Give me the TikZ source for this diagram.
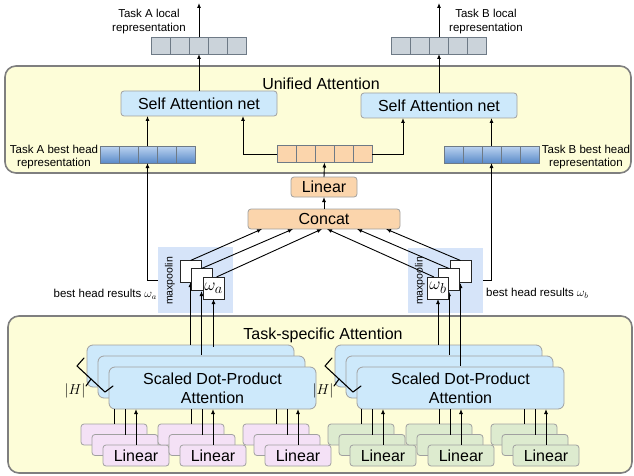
\documentclass[tikz,border=0pt]{standalone}
\usepackage{fontspec}
\setmainfont{Liberation Sans}
\usetikzlibrary{arrows.meta,calc}

\definecolor{panelyellow}{HTML}{FDFDD8}
\definecolor{panelrule}{HTML}{7F7F7F}
\definecolor{boxrule}{HTML}{A0A0A0}
\definecolor{vecrule}{HTML}{6E7A86}
\definecolor{attblue}{HTML}{CDE9FB}
\definecolor{peach}{HTML}{FBD5AC}
\definecolor{lilac}{HTML}{F4E1F6}
\definecolor{sage}{HTML}{DDEBCF}
\definecolor{slate}{HTML}{CBD3DA}
\definecolor{poolblue}{HTML}{D6E4F9}
\definecolor{vectop}{HTML}{BCD3F0}
\definecolor{vecbot}{HTML}{5A8BC9}

\begin{document}
\begin{tikzpicture}[x=1pt,y=-1pt,
  panel/.style={draw=panelrule, line width=1.6pt, fill=panelyellow, rounded corners=11pt},
  blk/.style={draw=boxrule, line width=0.8pt, rounded corners=3pt, inner sep=0pt,
    outer sep=0pt, font=\fontsize{16}{19}\selectfont, align=center},
  vecbox/.style={draw=vecrule, line width=0.8pt, minimum width=95pt, minimum height=17pt,
    inner sep=0pt, outer sep=0pt,
    path picture={\foreach \k in {1,...,4}{
      \draw[vecrule, line width=0.8pt] ([xshift=\k*19pt]path picture bounding box.south west)
        -- ([xshift=\k*19pt]path picture bounding box.north west);}}},
  poolbox/.style={draw=black!85, line width=0.9pt, fill=white, minimum width=21pt,
    minimum height=22pt, inner sep=0pt, outer sep=0pt, font=\fontsize{19}{19}\selectfont},
  small/.style={font=\fontsize{11.5}{13.5}\selectfont, align=center, inner sep=0pt},
  big/.style={font=\fontsize{16}{19}\selectfont, inner sep=0pt},
  arr/.style={-{Latex[length=5pt,width=4pt]}, line width=0.9pt},
  ln/.style={line width=0.9pt},
  bracemark/.style={line width=1.1pt, line join=round, line cap=round}]
\useasboundingbox (0,0) rectangle (634,476);

% ---------- container panels ----------
\draw[panel] (5,66) rectangle (631,173);
\draw[panel] (8,316) rectangle (632,473);
\node[big] (unilbl) at (321,84) {Unified Attention};
\node[big] (tslbl) at (323,335) {Task-specific Attention};

% ---------- unified attention ----------
\node[blk, fill=attblue, minimum width=156pt, minimum height=25pt] (saA) at (199,103.5) {Self Attention net};
\node[blk, fill=attblue, minimum width=156pt, minimum height=25pt] (saB) at (439,105.5) {Self Attention net};

\node[vecbox, fill=slate] (locA) at (199,45.5) {};
\node[vecbox, fill=slate] (locB) at (439,45.5) {};
\node[vecbox, top color=vectop, bottom color=vecbot] (bestA) at (147.5,154.5) {};
\node[vecbox, top color=vectop, bottom color=vecbot] (bestB) at (491.5,154.5) {};
\node[vecbox, fill=peach] (mix) at (324.5,154) {};

\node[small] (locAlbl) at (149,21.5) {Task A local\\representation};
\node[small] (locBlbl) at (486,21.5) {Task B local\\representation};
\node[small] (bestAlbl) at (54,157) {Task A best head\\representation};
\node[small] (bestBlbl) at (586,157) {Task B best head\\representation};

\coordinate (outA) at (199,3);
\coordinate (outB) at (439,3);
\draw[arr] (locA.north) -- (outA);
\draw[arr] (locB.north) -- (outB);
\draw[arr] (saA.north) -- (locA.south);
\draw[arr] (saB.north) -- (locB.south);
\draw[arr] (bestA.north) -- (bestA.north |- saA.south);
\draw[arr] (bestB.north) -- (bestB.north |- saB.south);
\draw[arr] (mix.west) -| ([xshift=44pt]saA.south);
\draw[arr] (mix.east) -| ([xshift=-36pt]saB.south);

% ---------- concat and projection ----------
\node[blk, fill=peach, minimum width=66pt, minimum height=20pt] (proj) at (324,187) {Linear};
\node[blk, fill=peach, minimum width=152pt, minimum height=20pt] (concat) at (324,219) {Concat};
\draw[arr] (proj.north) -- (mix.south);
\draw[arr] (concat.north) -- (proj.south);

% ---------- max pooling ----------
\node[fill=poolblue, minimum width=75pt, minimum height=66pt, inner sep=0pt] (poolA) at (195.5,280) {};
\node[fill=poolblue, minimum width=75pt, minimum height=65pt, inner sep=0pt] (poolB) at (445.5,280.5) {};
\node[font=\fontsize{10.5}{12}\selectfont, rotate=90, inner sep=0pt] (poolAlbl) at (170,281) {maxpoolin};
\node[font=\fontsize{10.5}{12}\selectfont, rotate=90, inner sep=0pt] (poolBlbl) at (420,281) {maxpoolin};

\node[small, anchor=east] (resA) at (157,294) {best head results $\omega_a$};
\node[small, anchor=west] (resB) at (486,293) {best head results $\omega_b$};

\draw[arr] (poolA.west) -| (bestA.south);
\draw[arr] (poolB.east) -| (bestB.south);

% ---------- scaled dot-product attention stacks ----------
\foreach \i/\dx in {1/0,2/11,3/22}{
  \node[blk, fill=attblue, rounded corners=6pt, minimum width=207pt, minimum height=42pt]
    (sdA\i) at (190.5+\dx,366+\dx) {};
  \node[blk, fill=attblue, rounded corners=6pt, minimum width=207pt, minimum height=42pt]
    (sdB\i) at (438.5+\dx,366+\dx) {};
}
\node[big, align=center] (sdAtxt) at (sdA3) {Scaled Dot-Product\\Attention};
\node[big, align=center] (sdBtxt) at (sdB3) {Scaled Dot-Product\\Attention};

% heads braces (angular, drawn as polylines)
\foreach \bx in {0,248}{
  \draw[bracemark] (84+\bx,358) -- (77+\bx,366) -- (105+\bx,392) -- (113+\bx,386);
  \draw[bracemark] (91+\bx,379) -- (86+\bx,386);
}
\node[font=\fontsize{14}{14}\selectfont, inner sep=0pt] (hA) at (75,391) {$|H|$};
\node[font=\fontsize{14}{14}\selectfont, inner sep=0pt] (hB) at (323,391) {$|H|$};

% ---------- linear projections ----------
\foreach \x/\nm/\fc in {81/la/lilac,158/lb/lilac,243/lc/lilac,328/ra/sage,406/rb/sage,491/rc/sage}{
  \node[blk, fill=\fc, minimum width=66pt, minimum height=21pt] (\nm0) at (\x+33,434.5) {};
  \node[blk, fill=\fc, minimum width=66pt, minimum height=21pt] (\nm1) at (\x+44,445) {};
  \node[blk, fill=\fc, minimum width=66pt, minimum height=21pt] (\nm2) at (\x+55,455.5) {Linear};
}
\foreach \nm/\tg in {la/sdA3,lb/sdA3,lc/sdA3,ra/sdB3,rb/sdB3,rc/sdB3}{
  \draw[ln] (\nm0.north) -- (\nm0.north |- \tg.south);
  \draw[ln] (\nm1.north) -- (\nm1.north |- \tg.south);
  \draw[arr] (\nm2.north) -- (\nm2.north |- \tg.south);
}

% ---------- head outputs into pooling ----------
\coordinate (mpa1in) at (190.5,345);
\coordinate (mpa2in) at (201.5,355);
\coordinate (mpa3in) at (213.5,347);
\coordinate (mpb1in) at (438,345);
\coordinate (mpb2in) at (449,355);
\coordinate (mpb3in) at (460.5,366);
\coordinate (mpa1top) at (190.5,260);
\coordinate (mpa2top) at (201.5,268);
\coordinate (mpa3top) at (213.5,277);
\coordinate (mpb1top) at (438,277);
\coordinate (mpb2top) at (449,268);
\coordinate (mpb3top) at (460.5,260);
\draw[arr] (mpa1in) -- ([yshift=-22pt]mpa1top);
\draw[arr] (mpa2in) -- ([yshift=-23pt]mpa2top);
\draw[arr] (mpa3in) -- ([yshift=-22pt]mpa3top);
\draw[arr] (mpb1in) -- ([yshift=-22pt]mpb1top);
\draw[arr] (mpb2in) -- ([yshift=-23pt]mpb2top);
\draw[arr] (mpb3in) -- ([yshift=-23pt]mpb3top);

\node[poolbox] (mpa1) at (190.5,271.5) {};
\node[poolbox] (mpa2) at (201.5,279.5) {};
\node[poolbox] (mpa3) at (213.5,288) {$\omega_a$};
\node[poolbox] (mpb3) at (460.5,271.5) {};
\node[poolbox] (mpb2) at (449,279.5) {};
\node[poolbox] (mpb1) at (438,288) {$\omega_b$};

\draw[arr] (mpa1.north) -- ([xshift=-62pt]concat.south);
\draw[arr] (mpa2.north) -- ([xshift=-31pt]concat.south);
\draw[arr] ([xshift=3pt]mpa3.north) -- ([xshift=-2pt]concat.south);
\draw[arr] ([xshift=-4pt]mpb1.north) -- ([xshift=3pt]concat.south);
\draw[arr] (mpb2.north) -- ([xshift=33pt]concat.south);
\draw[arr] (mpb3.north) -- ([xshift=62pt]concat.south);
\end{tikzpicture}
\end{document}
